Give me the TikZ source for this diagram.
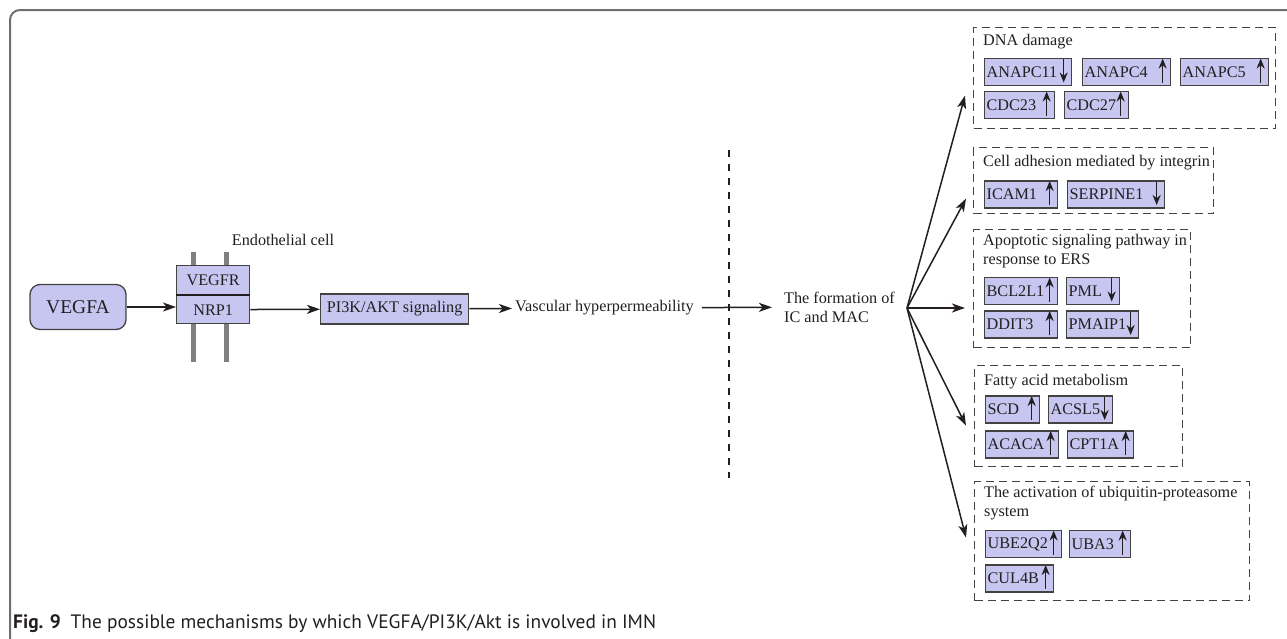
\documentclass[tikz,border=0pt]{standalone}
\usepackage{fontspec}
\setmainfont{Liberation Serif}
\newfontfamily\capfont{PT Sans}
\usepackage{tikz}
\usetikzlibrary{positioning,arrows.meta}
\definecolor{Lavender}{RGB}{198, 198, 240}
\definecolor{Ink}{RGB}{35, 31, 32}
\definecolor{FrameGray}{RGB}{110, 110, 110}
\definecolor{Membrane}{RGB}{128, 128, 128}

\begin{document}
\begin{tikzpicture}[x=1pt, y=-1pt,
    every node/.style={font=\fontsize{16.2}{19}\selectfont, text=Ink},
    box/.style={rectangle, draw=Ink!85, fill=Lavender, line width=1.3pt, inner sep=0pt},
    gene/.style={box, anchor=west, minimum height=27pt, inner xsep=2pt, text width=#1, align=left},
    trend/.style={-{Stealth[length=10pt,width=8pt]}, line width=1.6pt, draw=Ink},
    geneup/.style={gene=#1, path picture={\draw[trend] ([xshift=-8pt,yshift=3pt]path picture bounding box.south east) -- ([xshift=-8pt]path picture bounding box.north east);}},
    genedown/.style={gene=#1, path picture={\draw[trend] ([xshift=-8pt]path picture bounding box.north east) -- ([xshift=-8pt,yshift=3pt]path picture bounding box.south east);}},
    group/.style={draw=Ink!85, line width=1.2pt, dash pattern=on 8pt off 5pt, anchor=north west, inner sep=0pt},
    grouptitle/.style={anchor=west, inner sep=0pt, align=left},
    flow/.style={-{Stealth[length=13pt,width=9pt,inset=3.5pt]}, line width=1.5pt, draw=Ink},
    membrane/.style={line width=5pt, draw=Membrane},
]
\useasboundingbox (0,0) rectangle (1287,638);
\draw[FrameGray, line width=2pt, rounded corners=10pt] (10,645) -- (10,10) -- (1295,10);

% cell membrane
\draw[membrane] (193,252) -- (193,362);
\draw[membrane] (226,252) -- (226,362);

\node[box, rounded corners=10pt, minimum width=96pt, minimum height=45pt,
      font=\fontsize{19.5}{22}\selectfont] (vegfa) at (78,307) {VEGFA};
\node[box, minimum width=73pt, minimum height=29pt, anchor=south west] (vegfr) at (176,295) {VEGFR};
\node[box, minimum width=73pt, minimum height=28pt, below=0pt of vegfr] (nrp1) {NRP1};
\draw[line width=2.6pt, Ink] (vegfr.south west) -- (vegfr.south east);
\node[inner sep=0pt] (endo) at (283,240) {Endothelial cell};
\node[box, minimum width=148pt, minimum height=30pt, anchor=west] (pi3k) at (320,309) {PI3K/AKT signaling};
\node[anchor=west, inner xsep=3pt, inner ysep=0pt] (vasc) at (512,308) {Vascular hyperpermeability};
\node[anchor=west, align=left, inner xsep=3pt, inner ysep=0pt] (form) at (781,307) {The formation of\\IC and MAC};
\coordinate (fan) at (907,308);

\draw[flow] (vegfa.east) -- (vegfa.east -| nrp1.west);
\draw[flow] (nrp1) -- (pi3k);
\draw[flow] (pi3k) -- (vasc);
\draw[flow, shorten <=5pt, shorten >=9pt] (vasc) -- (form);
\draw[Ink, line width=1.2pt, dash pattern=on 7pt off 7pt] (729,150) -- (729,478);

% DNA damage
\node[group, minimum width=302pt, minimum height=101pt] (dna) at (973,27) {};
\node[grouptitle] (dnat) at (983,42) {DNA damage};
\node[genedown=83pt] (anapc11) at (984,72) {ANAPC11};
\node[geneup=84pt] (anapc4) at (1082,72) {ANAPC4};
\node[geneup=84pt] (anapc5) at (1180,72) {ANAPC5};
\node[geneup=66pt] (cdc23) at (984,105) {CDC23};
\node[geneup=60pt] (cdc27) at (1064,105) {CDC27};

% cell adhesion
\node[group, minimum width=240pt, minimum height=66pt] (adh) at (973,147) {};
\node[grouptitle] (adht) at (983,163) {Cell adhesion mediated by integrin};
\node[geneup=69pt] (icam1) at (984,194.5) {ICAM1};
\node[genedown=93pt] (serpine1) at (1067,194.5) {SERPINE1};

% apoptotic signaling
\node[group, minimum width=217pt, minimum height=118pt] (apop) at (973,229) {};
\node[grouptitle, anchor=north west] (apopt) at (983,234) {Apoptotic signaling pathway in\\response to ERS};
\node[geneup=69pt] (bcl2l1) at (984,291) {BCL2L1};
\node[genedown=49pt] (pml) at (1066,291) {PML};
\node[geneup=69pt] (ddit3) at (984,324.5) {DDIT3};
\node[genedown=68pt] (pmaip1) at (1066,324.5) {PMAIP1};

% fatty acid metabolism
\node[group, minimum width=208pt, minimum height=101pt] (fat) at (974,365) {};
\node[grouptitle] (fatt) at (984,382) {Fatty acid metabolism};
\node[geneup=50pt] (scd) at (985,409.5) {SCD};
\node[genedown=60pt] (acsl5) at (1048,409.5) {ACSL5};
\node[geneup=69pt] (acaca) at (985,444.5) {ACACA};
\node[geneup=62pt] (cpt1a) at (1067,444.5) {CPT1A};

% ubiquitin-proteasome
\node[group, minimum width=275pt, minimum height=119pt] (ubq) at (974,481) {};
\node[grouptitle, anchor=north west] (ubqt) at (984,486) {The activation of ubiquitin-proteasome\\system};
\node[geneup=72pt] (ube2q2) at (985,544) {UBE2Q2};
\node[geneup=57pt] (uba3) at (1069,544) {UBA3};
\node[geneup=64pt] (cul4b) at (985,578.5) {CUL4B};

\draw[flow] (fan) -- ([xshift=-8pt,yshift=-17.5pt]dna.west);
\draw[flow] (fan) -- ([xshift=-7pt,yshift=-18pt]adh.west);
\draw[flow] (fan) -- ([xshift=-8pt]apop.west |- fan);
\draw[flow] (fan) -- ([xshift=-8pt,yshift=-9.5pt]fat.west);
\draw[flow] (fan) -- ([xshift=-8pt,yshift=3.5pt]ubq.west);

\node[anchor=base west, inner sep=0pt, font=\capfont\fontsize{19.4}{22}\selectfont] (cap) at (13,628)
     {\textbf{Fig. 9}\hspace{0.5em}The possible mechanisms by which VEGFA/PI3K/Akt is involved in IMN};
\end{tikzpicture}
\end{document}
